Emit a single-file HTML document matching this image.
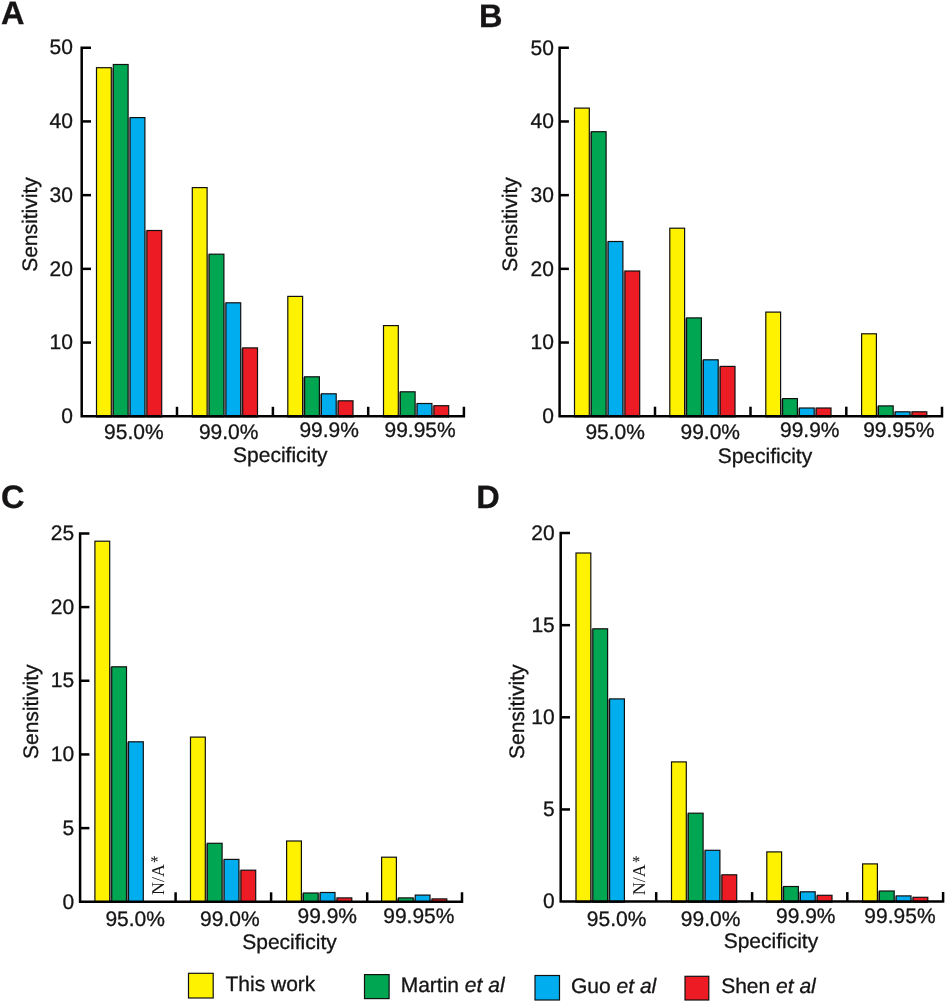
<!DOCTYPE html>
<html><head><meta charset="utf-8"><title>Sensitivity vs Specificity</title>
<style>
html,body{margin:0;padding:0;background:#fff;}
body{width:946px;height:1003px;overflow:hidden;font-family:"Liberation Sans",sans-serif;}
svg{display:block;will-change:transform;}
text{text-rendering:geometricPrecision;stroke:#161415;stroke-width:0.3px;}
</style></head><body>
<svg width="946" height="1003" viewBox="0 0 946 1003">
<rect width="946" height="1003" fill="#fff"/>
<rect x="111.70" y="68.10" width="1.20" height="348.20" fill="#8a8a8a"/>
<rect x="128.50" y="118.00" width="1.20" height="298.30" fill="#8a8a8a"/>
<rect x="145.30" y="230.90" width="1.20" height="185.40" fill="#8a8a8a"/>
<rect x="96.50" y="67.70" width="14.80" height="349.20" fill="#fff200" stroke="#111" stroke-width="1.2"/>
<rect x="113.30" y="64.50" width="14.80" height="352.40" fill="#00a651" stroke="#111" stroke-width="1.2"/>
<rect x="130.10" y="117.60" width="14.80" height="299.30" fill="#00aeef" stroke="#111" stroke-width="1.2"/>
<rect x="146.90" y="230.50" width="14.80" height="186.40" fill="#ed1c24" stroke="#111" stroke-width="1.2"/>
<rect x="207.50" y="254.60" width="1.20" height="161.70" fill="#8a8a8a"/>
<rect x="224.30" y="303.20" width="1.20" height="113.10" fill="#8a8a8a"/>
<rect x="241.10" y="348.30" width="1.20" height="68.00" fill="#8a8a8a"/>
<rect x="192.30" y="187.60" width="14.80" height="229.30" fill="#fff200" stroke="#111" stroke-width="1.2"/>
<rect x="209.10" y="254.20" width="14.80" height="162.70" fill="#00a651" stroke="#111" stroke-width="1.2"/>
<rect x="225.90" y="302.80" width="14.80" height="114.10" fill="#00aeef" stroke="#111" stroke-width="1.2"/>
<rect x="242.70" y="347.90" width="14.80" height="69.00" fill="#ed1c24" stroke="#111" stroke-width="1.2"/>
<rect x="303.00" y="377.20" width="1.20" height="39.10" fill="#8a8a8a"/>
<rect x="319.80" y="394.20" width="1.20" height="22.10" fill="#8a8a8a"/>
<rect x="336.60" y="401.20" width="1.20" height="15.10" fill="#8a8a8a"/>
<rect x="287.80" y="296.40" width="14.80" height="120.50" fill="#fff200" stroke="#111" stroke-width="1.2"/>
<rect x="304.60" y="376.80" width="14.80" height="40.10" fill="#00a651" stroke="#111" stroke-width="1.2"/>
<rect x="321.40" y="393.80" width="14.80" height="23.10" fill="#00aeef" stroke="#111" stroke-width="1.2"/>
<rect x="338.20" y="400.80" width="14.80" height="16.10" fill="#ed1c24" stroke="#111" stroke-width="1.2"/>
<rect x="398.70" y="392.20" width="1.20" height="24.10" fill="#8a8a8a"/>
<rect x="415.50" y="403.90" width="1.20" height="12.40" fill="#8a8a8a"/>
<rect x="432.30" y="406.10" width="1.20" height="10.20" fill="#8a8a8a"/>
<rect x="383.50" y="325.60" width="14.80" height="91.30" fill="#fff200" stroke="#111" stroke-width="1.2"/>
<rect x="400.30" y="391.80" width="14.80" height="25.10" fill="#00a651" stroke="#111" stroke-width="1.2"/>
<rect x="417.10" y="403.50" width="14.80" height="13.40" fill="#00aeef" stroke="#111" stroke-width="1.2"/>
<rect x="433.90" y="405.70" width="14.80" height="11.20" fill="#ed1c24" stroke="#111" stroke-width="1.2"/>
<path d="M91.00,47.70 H81.70 V416.30 H463.90 V406.80" fill="none" stroke="#000" stroke-width="2.5" stroke-linejoin="miter" stroke-linecap="butt"/>
<path d="M81.70,342.58 H91.00" stroke="#000" stroke-width="2.5"/>
<path d="M81.70,268.86 H91.00" stroke="#000" stroke-width="2.5"/>
<path d="M81.70,195.14 H91.00" stroke="#000" stroke-width="2.5"/>
<path d="M81.70,121.42 H91.00" stroke="#000" stroke-width="2.5"/>
<path d="M177.00,416.30 V406.80" stroke="#000" stroke-width="2.5"/>
<path d="M272.90,416.30 V406.80" stroke="#000" stroke-width="2.5"/>
<path d="M368.20,416.30 V406.80" stroke="#000" stroke-width="2.5"/>
<text x="61.14" y="423.03" font-family='"Liberation Sans"' font-size="21" fill="#161415">0</text>
<text x="49.46" y="349.31" font-family='"Liberation Sans"' font-size="21" fill="#161415">10</text>
<text x="49.46" y="275.59" font-family='"Liberation Sans"' font-size="21" fill="#161415">20</text>
<text x="49.46" y="201.87" font-family='"Liberation Sans"' font-size="21" fill="#161415">30</text>
<text x="49.46" y="128.15" font-family='"Liberation Sans"' font-size="21" fill="#161415">40</text>
<text x="49.46" y="54.43" font-family='"Liberation Sans"' font-size="21" fill="#161415">50</text>
<text x="104.11" y="439.48" font-family='"Liberation Sans"' font-size="21" fill="#161415">95.0%</text>
<text x="198.91" y="439.48" font-family='"Liberation Sans"' font-size="21" fill="#161415">99.0%</text>
<text x="299.41" y="437.03" font-family='"Liberation Sans"' font-size="21" fill="#161415">99.9%</text>
<text x="384.47" y="437.03" font-family='"Liberation Sans"' font-size="21" fill="#161415">99.95%</text>
<text x="233.03" y="462.33" font-family='"Liberation Sans"' font-size="21" fill="#161415">Specificity</text>
<text transform="translate(31.25,224.10) rotate(-90) translate(-47.72,5.43)" font-family='"Liberation Sans"' font-size="21" fill="#161415">Sensitivity</text>
<text x="0.89" y="23.68" font-family='"Liberation Sans"' font-size="32.5" font-weight="bold" fill="#161415">A</text>
<rect x="589.70" y="132.10" width="1.20" height="284.10" fill="#8a8a8a"/>
<rect x="606.50" y="241.90" width="1.20" height="174.30" fill="#8a8a8a"/>
<rect x="623.30" y="271.40" width="1.20" height="144.80" fill="#8a8a8a"/>
<rect x="574.50" y="108.10" width="14.80" height="308.70" fill="#fff200" stroke="#111" stroke-width="1.2"/>
<rect x="591.30" y="131.70" width="14.80" height="285.10" fill="#00a651" stroke="#111" stroke-width="1.2"/>
<rect x="608.10" y="241.50" width="14.80" height="175.30" fill="#00aeef" stroke="#111" stroke-width="1.2"/>
<rect x="624.90" y="271.00" width="14.80" height="145.80" fill="#ed1c24" stroke="#111" stroke-width="1.2"/>
<rect x="685.00" y="318.30" width="1.20" height="97.90" fill="#8a8a8a"/>
<rect x="701.80" y="360.20" width="1.20" height="56.00" fill="#8a8a8a"/>
<rect x="718.60" y="366.80" width="1.20" height="49.40" fill="#8a8a8a"/>
<rect x="669.80" y="228.20" width="14.80" height="188.60" fill="#fff200" stroke="#111" stroke-width="1.2"/>
<rect x="686.60" y="317.90" width="14.80" height="98.90" fill="#00a651" stroke="#111" stroke-width="1.2"/>
<rect x="703.40" y="359.80" width="14.80" height="57.00" fill="#00aeef" stroke="#111" stroke-width="1.2"/>
<rect x="720.20" y="366.40" width="14.80" height="50.40" fill="#ed1c24" stroke="#111" stroke-width="1.2"/>
<rect x="781.00" y="399.00" width="1.20" height="17.20" fill="#8a8a8a"/>
<rect x="797.80" y="408.40" width="1.20" height="7.80" fill="#8a8a8a"/>
<rect x="814.60" y="408.40" width="1.20" height="7.80" fill="#8a8a8a"/>
<rect x="765.80" y="312.10" width="14.80" height="104.70" fill="#fff200" stroke="#111" stroke-width="1.2"/>
<rect x="782.60" y="398.60" width="14.80" height="18.20" fill="#00a651" stroke="#111" stroke-width="1.2"/>
<rect x="799.40" y="408.00" width="14.80" height="8.80" fill="#00aeef" stroke="#111" stroke-width="1.2"/>
<rect x="816.20" y="408.00" width="14.80" height="8.80" fill="#ed1c24" stroke="#111" stroke-width="1.2"/>
<rect x="876.80" y="406.30" width="1.20" height="9.90" fill="#8a8a8a"/>
<rect x="893.60" y="412.20" width="1.20" height="4.00" fill="#8a8a8a"/>
<rect x="910.40" y="412.20" width="1.20" height="4.00" fill="#8a8a8a"/>
<rect x="861.60" y="333.80" width="14.80" height="83.00" fill="#fff200" stroke="#111" stroke-width="1.2"/>
<rect x="878.40" y="405.90" width="14.80" height="10.90" fill="#00a651" stroke="#111" stroke-width="1.2"/>
<rect x="895.20" y="411.80" width="14.80" height="5.00" fill="#00aeef" stroke="#111" stroke-width="1.2"/>
<rect x="912.00" y="411.80" width="14.80" height="5.00" fill="#ed1c24" stroke="#111" stroke-width="1.2"/>
<path d="M568.90,47.80 H559.60 V416.20 H942.00 V406.70" fill="none" stroke="#000" stroke-width="2.5" stroke-linejoin="miter" stroke-linecap="butt"/>
<path d="M559.60,342.52 H568.90" stroke="#000" stroke-width="2.5"/>
<path d="M559.60,268.84 H568.90" stroke="#000" stroke-width="2.5"/>
<path d="M559.60,195.16 H568.90" stroke="#000" stroke-width="2.5"/>
<path d="M559.60,121.48 H568.90" stroke="#000" stroke-width="2.5"/>
<path d="M655.00,416.20 V406.70" stroke="#000" stroke-width="2.5"/>
<path d="M750.50,416.20 V406.70" stroke="#000" stroke-width="2.5"/>
<path d="M846.30,416.20 V406.70" stroke="#000" stroke-width="2.5"/>
<text x="542.14" y="422.93" font-family='"Liberation Sans"' font-size="21" fill="#161415">0</text>
<text x="530.46" y="349.25" font-family='"Liberation Sans"' font-size="21" fill="#161415">10</text>
<text x="530.46" y="275.57" font-family='"Liberation Sans"' font-size="21" fill="#161415">20</text>
<text x="530.46" y="201.89" font-family='"Liberation Sans"' font-size="21" fill="#161415">30</text>
<text x="530.46" y="128.21" font-family='"Liberation Sans"' font-size="21" fill="#161415">40</text>
<text x="530.46" y="54.53" font-family='"Liberation Sans"' font-size="21" fill="#161415">50</text>
<text x="585.41" y="438.88" font-family='"Liberation Sans"' font-size="21" fill="#161415">95.0%</text>
<text x="680.46" y="438.88" font-family='"Liberation Sans"' font-size="21" fill="#161415">99.0%</text>
<text x="780.01" y="437.18" font-family='"Liberation Sans"' font-size="21" fill="#161415">99.9%</text>
<text x="863.17" y="437.18" font-family='"Liberation Sans"' font-size="21" fill="#161415">99.95%</text>
<text x="717.63" y="463.03" font-family='"Liberation Sans"' font-size="21" fill="#161415">Specificity</text>
<text transform="translate(512.00,224.10) rotate(-90) translate(-47.72,5.43)" font-family='"Liberation Sans"' font-size="21" fill="#161415">Sensitivity</text>
<text x="478.97" y="26.83" font-family='"Liberation Sans"' font-size="32.5" font-weight="bold" fill="#161415">B</text>
<rect x="110.10" y="667.20" width="1.20" height="234.60" fill="#8a8a8a"/>
<rect x="126.90" y="742.20" width="1.20" height="159.60" fill="#8a8a8a"/>
<rect x="94.90" y="541.20" width="14.80" height="361.20" fill="#fff200" stroke="#111" stroke-width="1.2"/>
<rect x="111.70" y="666.80" width="14.80" height="235.60" fill="#00a651" stroke="#111" stroke-width="1.2"/>
<rect x="128.50" y="741.80" width="14.80" height="160.60" fill="#00aeef" stroke="#111" stroke-width="1.2"/>
<rect x="205.70" y="843.70" width="1.20" height="58.10" fill="#8a8a8a"/>
<rect x="222.50" y="859.80" width="1.20" height="42.00" fill="#8a8a8a"/>
<rect x="239.30" y="870.60" width="1.20" height="31.20" fill="#8a8a8a"/>
<rect x="190.50" y="737.10" width="14.80" height="165.30" fill="#fff200" stroke="#111" stroke-width="1.2"/>
<rect x="207.30" y="843.30" width="14.80" height="59.10" fill="#00a651" stroke="#111" stroke-width="1.2"/>
<rect x="224.10" y="859.40" width="14.80" height="43.00" fill="#00aeef" stroke="#111" stroke-width="1.2"/>
<rect x="240.90" y="870.20" width="14.80" height="32.20" fill="#ed1c24" stroke="#111" stroke-width="1.2"/>
<rect x="301.80" y="893.40" width="1.20" height="8.40" fill="#8a8a8a"/>
<rect x="318.60" y="893.40" width="1.20" height="8.40" fill="#8a8a8a"/>
<rect x="335.40" y="898.30" width="1.20" height="3.50" fill="#8a8a8a"/>
<rect x="286.60" y="841.00" width="14.80" height="61.40" fill="#fff200" stroke="#111" stroke-width="1.2"/>
<rect x="303.40" y="893.00" width="14.80" height="9.40" fill="#00a651" stroke="#111" stroke-width="1.2"/>
<rect x="320.20" y="892.50" width="14.80" height="9.90" fill="#00aeef" stroke="#111" stroke-width="1.2"/>
<rect x="337.00" y="897.90" width="14.80" height="4.50" fill="#ed1c24" stroke="#111" stroke-width="1.2"/>
<rect x="396.80" y="898.30" width="1.20" height="3.50" fill="#8a8a8a"/>
<rect x="413.60" y="898.30" width="1.20" height="3.50" fill="#8a8a8a"/>
<rect x="430.40" y="899.30" width="1.20" height="2.50" fill="#8a8a8a"/>
<rect x="381.60" y="857.20" width="14.80" height="45.20" fill="#fff200" stroke="#111" stroke-width="1.2"/>
<rect x="398.40" y="897.90" width="14.80" height="4.50" fill="#00a651" stroke="#111" stroke-width="1.2"/>
<rect x="415.20" y="895.10" width="14.80" height="7.30" fill="#00aeef" stroke="#111" stroke-width="1.2"/>
<rect x="432.00" y="898.90" width="14.80" height="3.50" fill="#ed1c24" stroke="#111" stroke-width="1.2"/>
<path d="M89.40,533.40 H80.10 V901.80 H462.00 V892.30" fill="none" stroke="#000" stroke-width="2.5" stroke-linejoin="miter" stroke-linecap="butt"/>
<path d="M80.10,828.12 H89.40" stroke="#000" stroke-width="2.5"/>
<path d="M80.10,754.44 H89.40" stroke="#000" stroke-width="2.5"/>
<path d="M80.10,680.76 H89.40" stroke="#000" stroke-width="2.5"/>
<path d="M80.10,607.08 H89.40" stroke="#000" stroke-width="2.5"/>
<path d="M175.60,901.80 V892.30" stroke="#000" stroke-width="2.5"/>
<path d="M271.10,901.80 V892.30" stroke="#000" stroke-width="2.5"/>
<path d="M367.20,901.80 V892.30" stroke="#000" stroke-width="2.5"/>
<text x="62.44" y="908.53" font-family='"Liberation Sans"' font-size="21" fill="#161415">0</text>
<text x="62.50" y="834.74" font-family='"Liberation Sans"' font-size="21" fill="#161415">5</text>
<text x="50.76" y="761.17" font-family='"Liberation Sans"' font-size="21" fill="#161415">10</text>
<text x="50.82" y="687.38" font-family='"Liberation Sans"' font-size="21" fill="#161415">15</text>
<text x="50.76" y="613.81" font-family='"Liberation Sans"' font-size="21" fill="#161415">20</text>
<text x="50.82" y="540.13" font-family='"Liberation Sans"' font-size="21" fill="#161415">25</text>
<text x="105.41" y="925.68" font-family='"Liberation Sans"' font-size="21" fill="#161415">95.0%</text>
<text x="200.11" y="925.68" font-family='"Liberation Sans"' font-size="21" fill="#161415">99.0%</text>
<text x="297.46" y="923.18" font-family='"Liberation Sans"' font-size="21" fill="#161415">99.9%</text>
<text x="383.22" y="923.18" font-family='"Liberation Sans"' font-size="21" fill="#161415">99.95%</text>
<text x="242.23" y="948.93" font-family='"Liberation Sans"' font-size="21" fill="#161415">Specificity</text>
<text transform="translate(32.70,711.30) rotate(-90) translate(-47.72,5.43)" font-family='"Liberation Sans"' font-size="21" fill="#161415">Sensitivity</text>
<text x="1.04" y="507.79" font-family='"Liberation Sans"' font-size="32.5" font-weight="bold" fill="#161415">C</text>
<text transform="translate(158.20,879.35) rotate(-90) translate(-15.69,5.85)" font-family='"Liberation Serif"' font-size="18" fill="#161415" style="stroke-width:0">N/A</text>
<text x="150.22" y="867.08" font-family='"Liberation Serif"' font-size="16.5" fill="#161415" style="stroke-width:0">*</text>
<rect x="591.20" y="629.20" width="1.20" height="272.40" fill="#8a8a8a"/>
<rect x="608.00" y="699.30" width="1.20" height="202.30" fill="#8a8a8a"/>
<rect x="576.00" y="553.00" width="14.80" height="349.20" fill="#fff200" stroke="#111" stroke-width="1.2"/>
<rect x="592.80" y="628.80" width="14.80" height="273.40" fill="#00a651" stroke="#111" stroke-width="1.2"/>
<rect x="609.60" y="698.90" width="14.80" height="203.30" fill="#00aeef" stroke="#111" stroke-width="1.2"/>
<rect x="686.70" y="813.60" width="1.20" height="88.00" fill="#8a8a8a"/>
<rect x="703.50" y="850.70" width="1.20" height="50.90" fill="#8a8a8a"/>
<rect x="720.30" y="875.20" width="1.20" height="26.40" fill="#8a8a8a"/>
<rect x="671.50" y="761.90" width="14.80" height="140.30" fill="#fff200" stroke="#111" stroke-width="1.2"/>
<rect x="688.30" y="813.20" width="14.80" height="89.00" fill="#00a651" stroke="#111" stroke-width="1.2"/>
<rect x="705.10" y="850.30" width="14.80" height="51.90" fill="#00aeef" stroke="#111" stroke-width="1.2"/>
<rect x="721.90" y="874.80" width="14.80" height="27.40" fill="#ed1c24" stroke="#111" stroke-width="1.2"/>
<rect x="782.00" y="886.90" width="1.20" height="14.70" fill="#8a8a8a"/>
<rect x="798.80" y="892.20" width="1.20" height="9.40" fill="#8a8a8a"/>
<rect x="815.60" y="895.70" width="1.20" height="5.90" fill="#8a8a8a"/>
<rect x="766.80" y="851.90" width="14.80" height="50.30" fill="#fff200" stroke="#111" stroke-width="1.2"/>
<rect x="783.60" y="886.50" width="14.80" height="15.70" fill="#00a651" stroke="#111" stroke-width="1.2"/>
<rect x="800.40" y="891.80" width="14.80" height="10.40" fill="#00aeef" stroke="#111" stroke-width="1.2"/>
<rect x="817.20" y="895.30" width="14.80" height="6.90" fill="#ed1c24" stroke="#111" stroke-width="1.2"/>
<rect x="877.80" y="891.40" width="1.20" height="10.20" fill="#8a8a8a"/>
<rect x="894.60" y="896.30" width="1.20" height="5.30" fill="#8a8a8a"/>
<rect x="911.40" y="897.70" width="1.20" height="3.90" fill="#8a8a8a"/>
<rect x="862.60" y="863.90" width="14.80" height="38.30" fill="#fff200" stroke="#111" stroke-width="1.2"/>
<rect x="879.40" y="891.00" width="14.80" height="11.20" fill="#00a651" stroke="#111" stroke-width="1.2"/>
<rect x="896.20" y="895.90" width="14.80" height="6.30" fill="#00aeef" stroke="#111" stroke-width="1.2"/>
<rect x="913.00" y="897.30" width="14.80" height="4.90" fill="#ed1c24" stroke="#111" stroke-width="1.2"/>
<path d="M570.00,533.00 H560.70 V901.60 H943.10 V892.10" fill="none" stroke="#000" stroke-width="2.5" stroke-linejoin="miter" stroke-linecap="butt"/>
<path d="M560.70,809.45 H570.00" stroke="#000" stroke-width="2.5"/>
<path d="M560.70,717.30 H570.00" stroke="#000" stroke-width="2.5"/>
<path d="M560.70,625.15 H570.00" stroke="#000" stroke-width="2.5"/>
<path d="M656.20,901.60 V892.10" stroke="#000" stroke-width="2.5"/>
<path d="M752.10,901.60 V892.10" stroke="#000" stroke-width="2.5"/>
<path d="M847.30,901.60 V892.10" stroke="#000" stroke-width="2.5"/>
<text x="543.04" y="908.33" font-family='"Liberation Sans"' font-size="21" fill="#161415">0</text>
<text x="543.10" y="816.07" font-family='"Liberation Sans"' font-size="21" fill="#161415">5</text>
<text x="531.36" y="724.03" font-family='"Liberation Sans"' font-size="21" fill="#161415">10</text>
<text x="531.42" y="631.77" font-family='"Liberation Sans"' font-size="21" fill="#161415">15</text>
<text x="531.36" y="539.73" font-family='"Liberation Sans"' font-size="21" fill="#161415">20</text>
<text x="586.81" y="925.68" font-family='"Liberation Sans"' font-size="21" fill="#161415">95.0%</text>
<text x="680.81" y="925.68" font-family='"Liberation Sans"' font-size="21" fill="#161415">99.0%</text>
<text x="776.01" y="923.13" font-family='"Liberation Sans"' font-size="21" fill="#161415">99.9%</text>
<text x="864.37" y="923.03" font-family='"Liberation Sans"' font-size="21" fill="#161415">99.95%</text>
<text x="723.68" y="948.48" font-family='"Liberation Sans"' font-size="21" fill="#161415">Specificity</text>
<text transform="translate(518.70,711.30) rotate(-90) translate(-47.72,5.43)" font-family='"Liberation Sans"' font-size="21" fill="#161415">Sensitivity</text>
<text x="476.26" y="507.68" font-family='"Liberation Sans"' font-size="32.5" font-weight="bold" fill="#161415">D</text>
<text transform="translate(639.15,879.55) rotate(-90) translate(-15.69,5.85)" font-family='"Liberation Serif"' font-size="18" fill="#161415" style="stroke-width:0">N/A</text>
<text x="631.92" y="866.83" font-family='"Liberation Serif"' font-size="16.5" fill="#161415" style="stroke-width:0">*</text>
<rect x="188.50" y="973.30" width="24.70" height="24.70" fill="#fff200" stroke="#111" stroke-width="1.2"/>
<text x="225.53" y="991.40" font-family='"Liberation Sans"' font-size="21" fill="#161415">This work</text>
<rect x="364.50" y="974.60" width="24.60" height="24.00" fill="#00a651" stroke="#111" stroke-width="1.2"/>
<text x="400.68" y="991.60" font-family='"Liberation Sans"' font-size="21" fill="#161415">Martin <tspan font-style="italic">et al</tspan></text>
<rect x="535.00" y="975.50" width="24.50" height="24.50" fill="#00aeef" stroke="#111" stroke-width="1.2"/>
<text x="571.04" y="992.60" font-family='"Liberation Sans"' font-size="21" fill="#161415">Guo <tspan font-style="italic">et al</tspan></text>
<rect x="685.00" y="976.30" width="23.80" height="23.70" fill="#ed1c24" stroke="#111" stroke-width="1.2"/>
<text x="721.15" y="993.30" font-family='"Liberation Sans"' font-size="21" fill="#161415">Shen <tspan font-style="italic">et al</tspan></text>
</svg>
</body></html>
